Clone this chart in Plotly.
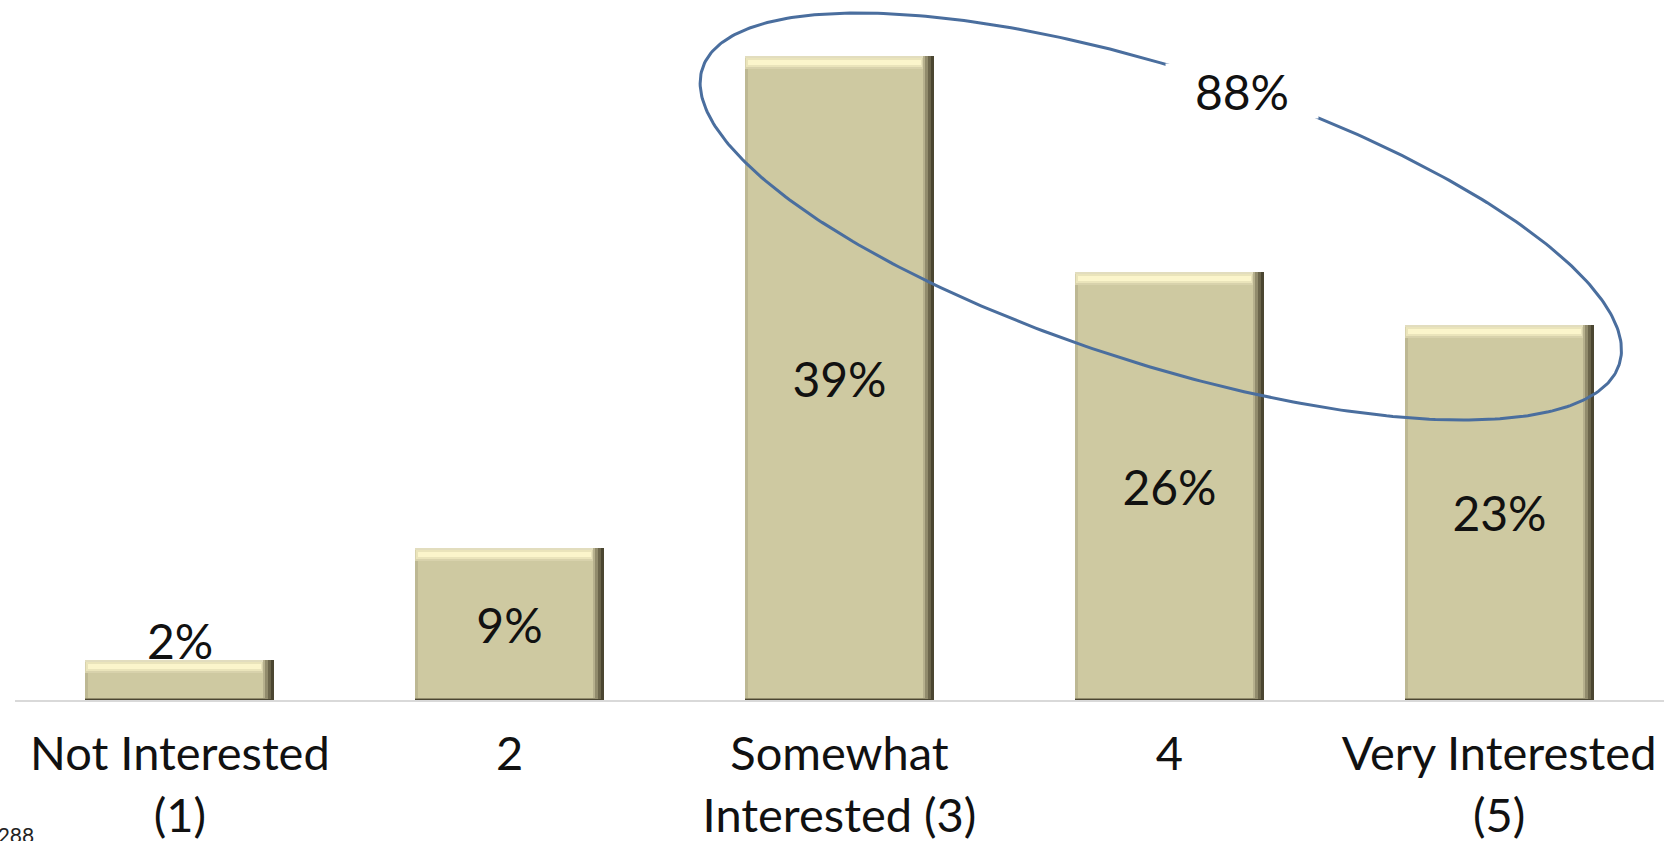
import numpy as np
import plotly.graph_objects as go

# ---------------- data ----------------
categories = ["Not Interested<br>(1)", "2", "Somewhat<br>Interested (3)", "4", "Very Interested<br>(5)"]
values = [2.4, 9.2, 39.0, 25.9, 22.7]          # percent (bar heights)
labels = ["2%", "9%", "39%", "26%", "23%"]
top_box_label = "88%"
sample_note = "n = 288"

# ---------------- geometry / style ----------------
W, H = 1674, 841
M_L, M_R, M_T, M_B = 14.5, 9.5, 6, 141
plot_w = W - M_L - M_R
plot_h = H - M_T - M_B
Y_MAX = 42.0
x_pos = list(range(len(categories)))
px_x = plot_w / len(categories)      # pixels per x unit
px_y = plot_h / Y_MAX                # pixels per y unit
bar_w = 0.573

FONT = "Lato, Calibri, Carlito, sans-serif"
FACE = "#CEC9A1"
TXT = "#111111"

def dx(p):
    return p / px_x

def dy(p):
    return p / px_y

fig = go.Figure()

def layer(width, offset, base, height, color):
    fig.add_trace(go.Bar(
        x=x_pos, y=list(height), base=list(base), width=[width] * len(x_pos),
        offset=[offset] * len(x_pos), marker=dict(color=color, line=dict(width=0)),
        hoverinfo="skip", showlegend=False))

v = np.array(values, dtype=float)
zero = np.zeros_like(v)
left = -bar_w / 2
# dark edge + right-side gradient
layer(bar_w, left, zero, v, "#4B4631")
layer(bar_w - dx(3), left, zero + dy(1), v - dy(1), "#6C664C")
layer(bar_w - dx(6), left, zero + dy(1.5), v - dy(1.5), "#918B6C")
layer(bar_w - dx(9), left, zero + dy(2), v - dy(2), "#B6B08D")
# left soft edge + face
layer(bar_w - dx(11), left, zero + dy(2), v - dy(2), "#BDB893")
layer(bar_w - dx(14), left + dx(3), zero + dy(2), v - dy(2), FACE)
# top bevel highlight
layer(bar_w - dx(11), left, v - dy(13), zero + dy(13), "#D8D2AC")
layer(bar_w - dx(13), left + dx(1), v - dy(11), zero + dy(9), "#EAE4BB")
layer(bar_w - dx(16), left + dx(3), v - dy(9), zero + dy(5), "#FBF5CB")
layer(bar_w - dx(11), left, v - dy(1.5), zero + dy(1.5), "#E2DDBE")

# value labels inside bars (transparent carrier bar)
fig.add_trace(go.Bar(
    x=x_pos[1:], y=values[1:], width=[bar_w] * (len(x_pos) - 1),
    marker=dict(color="rgba(0,0,0,0)", line=dict(width=0)),
    text=labels[1:], textposition="inside",
    insidetextanchor="middle", constraintext="none", cliponaxis=False,
    textfont=dict(family=FONT, size=48, color=TXT),
    hoverinfo="skip", showlegend=False))

# label of the small first bar sits just on top of it
fig.add_annotation(x=x_pos[0], y=values[0], xref="x", yref="y", text=labels[0],
                   showarrow=False, yanchor="middle", yshift=20,
                   font=dict(family=FONT, size=48, color=TXT))

# highlight ellipse (annotation shape, computed in pixel space then mapped)
cx, cy, ea, eb, phi = 1161.0, 216.5, 482.0, 146.9, np.deg2rad(17.87)
t = np.linspace(0, 2 * np.pi, 400)
ex_px = cx + ea * np.cos(t) * np.cos(phi) - eb * np.sin(t) * np.sin(phi)
ey_px = cy + ea * np.cos(t) * np.sin(phi) + eb * np.sin(t) * np.cos(phi)
ex = (ex_px - M_L) / px_x - 0.5
ey = (M_T + plot_h - ey_px) / px_y
fig.add_trace(go.Scatter(
    x=ex, y=ey, mode="lines", line=dict(color="#4A6E9E", width=3),
    hoverinfo="skip", showlegend=False, cliponaxis=False))

fig.add_annotation(
    x=(1242 - M_L) / px_x - 0.5, y=(M_T + plot_h - 91) / px_y, xref="x", yref="y",
    text=top_box_label, showarrow=False, bgcolor="white", width=150, height=52,
    font=dict(family=FONT, size=48, color=TXT))

fig.add_annotation(
    x=(36 - M_L) / plot_w, y=-(834 - M_T - plot_h) / plot_h, xref="paper", yref="paper",
    xanchor="right", yanchor="middle", text=sample_note, showarrow=False,
    font=dict(family=FONT, size=21, color="#222222"))

fig.update_layout(
    width=W, height=H, barmode="overlay", bargap=0,
    margin=dict(l=M_L, r=M_R, t=M_T, b=M_B, pad=0),
    plot_bgcolor="white", paper_bgcolor="white", showlegend=False,
    xaxis=dict(range=[-0.5, len(categories) - 0.5], tickvals=x_pos, ticktext=categories,
               showgrid=False, zeroline=False, showline=True, linecolor="#D9D9D9",
               linewidth=2, ticks="", tickfont=dict(family=FONT, size=47, color=TXT),
               ticklabelstandoff=12, fixedrange=True, automargin=False),
    xaxis2=dict(range=[-0.5, len(categories) - 0.5], overlaying="x", anchor="y",
                tickvals=[-0.5], ticktext=[""], ticks="inside", ticklen=12,
                tickcolor="#D9D9D9", tickwidth=2, showgrid=False, zeroline=False,
                showline=False, side="bottom", automargin=False),
    yaxis=dict(range=[0, Y_MAX], visible=False, fixedrange=True, automargin=False),
)
fig.add_trace(go.Scatter(x=[None], y=[None], xaxis="x2", showlegend=False, hoverinfo="skip"))

fig.write_html("out.html", config={"displayModeBar": False},
               post_script="document.body.style.margin='0px';")
